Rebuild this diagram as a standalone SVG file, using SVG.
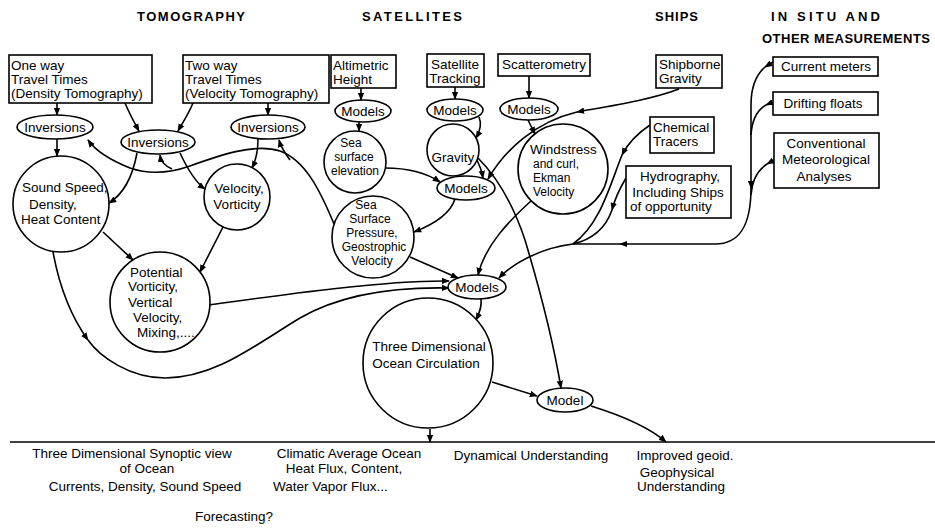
<svg xmlns="http://www.w3.org/2000/svg" width="935" height="528" viewBox="0 0 935 528">
<style>
.s{fill:#fff;stroke:#000;stroke-width:1.6}
.t{font-family:"Liberation Sans",Arial,sans-serif;font-size:13.5px;fill:#000}
.sm{font-size:12px}
.m{text-anchor:middle}
.h{font-family:"Liberation Sans",Arial,sans-serif;font-size:13px;font-weight:bold;fill:#000}
.c path{fill:none;stroke:#000;stroke-width:1.6}
.c path.a{marker-end:url(#ar)}
</style>
<defs>
<marker id="ar" viewBox="0 0 10 10" refX="9" refY="5" markerWidth="8" markerHeight="8" markerUnits="userSpaceOnUse" orient="auto"><path d="M0,1 L10,5 L0,9 z" fill="#000"/></marker>
</defs>
<rect width="935" height="528" fill="#fff"/>

<g id="headers">
<text class="h" x="137" y="21" textLength="108">TOMOGRAPHY</text>
<text class="h" x="362" y="21" textLength="100">SATELLITES</text>
<text class="h" x="655" y="21" textLength="43">SHIPS</text>
<text class="h" x="771" y="21" textLength="109">IN SITU  AND</text>
<text class="h" x="762" y="43" textLength="168">OTHER MEASUREMENTS</text>
</g>

<g class="c" id="connectors">
<path class="a" d="M57,103 L57,115"/>
<path class="a" d="M57,139 L57,156"/>
<path class="a" d="M125,103 C130,115 134,122 139,131"/>
<path class="a" d="M193,103 C188,115 183,122 178,131"/>
<path class="a" d="M268,103 L268,115"/>
<path class="a" d="M137,153 C132,180 122,195 109,203"/>
<path class="a" d="M180,153 C188,170 195,182 205,189"/>
<path class="a" d="M258,139 C258,150 256,160 252,168"/>
<path class="a" d="M334,224 C320,190 305,160 280,151 C255,143 220,155 190,166 C170,173 150,175 130,168 C110,160 95,150 88,140"/>
<path class="a" d="M172,169 C165,166 161,162 160,155"/>
<path class="a" d="M290,160 C284,152 281,147 279,140"/>
<path class="a" d="M103,232 L133,260"/>
<path class="a" d="M223,227 L200,272"/>
<path class="a" d="M209,305 C260,298 380,280 449,281"/>
<path class="a" d="M53,252 C60,290 72,318 88,340"/>
<path class="a" d="M88,340 C100,357 130,378 165,378 C215,378 255,345 300,318 C345,292 400,287 449,288"/>
<path class="a" d="M410,257 L458,278"/>
<path class="a" d="M455,199 C450,215 432,225 414,232"/>
<path class="a" d="M385,168 C410,168 428,174 440,182"/>
<path class="a" d="M361,88 L361,100"/>
<path class="a" d="M359,122 L359,131"/>
<path class="a" d="M455,87 L455,99"/>
<path class="a" d="M479,117 C482,124 480,131 476,138"/>
<path class="a" d="M477,160 C480,166 482,172 483,178"/>
<path class="a" d="M478,158 C500,180 515,210 525,240 C540,290 553,340 561,388"/>
<path class="a" d="M529,76 L529,98"/>
<path class="a" d="M528,120 L535,134"/>
<path class="a" d="M531,201 C510,220 485,245 478,275"/>
<path class="a" d="M679,89 C650,100 610,106 577,112"/>
<path class="a" d="M577,112 C535,122 505,150 488,179"/>
<path class="a" d="M650,125 C635,135 627,145 622,155"/>
<path d="M622,155 C610,185 600,225 573,244"/>
<path class="a" d="M626,178 C620,188 615,198 612,210"/>
<path d="M612,210 C605,230 590,240 573,244"/>
<path class="a" d="M773,62 L765,67"/>
<path class="a" d="M765,67 C756,75 751,88 751,105 L751,188"/>
<path class="a" d="M773,102 L766,105"/>
<path d="M766,105 C757,110 752,120 751,135"/>
<path class="a" d="M774,160 L767,164"/>
<path d="M767,164 C758,170 752,180 751,195"/>
<path class="a" d="M751,188 C751,225 740,244 715,244 L620,244"/>
<path class="a" d="M620,244 L573,244 C540,248 512,264 499,278"/>
<path class="a" d="M481,299 C482,306 480,312 476,320"/>
<path class="a" d="M492,382 L537,396"/>
<path class="a" d="M591,406 C620,415 650,428 666,442"/>
<path class="a" d="M430,429 L430,442"/>
<path d="M10,442 L935,442"/>
</g>

<g id="oneway"><rect class="s" x="9" y="55" width="143" height="48"/>
<text class="t" x="11" y="70">One way</text><text class="t" x="11" y="84">Travel Times</text><text class="t" x="11" y="98">(Density Tomography)</text></g>
<g id="twoway"><rect class="s" x="183" y="55" width="146" height="48"/>
<text class="t" x="185" y="70">Two way</text><text class="t" x="185" y="84">Travel Times</text><text class="t" x="185" y="98">(Velocity Tomography)</text></g>
<g id="altimetric"><rect class="s" x="331" y="55" width="65" height="33"/>
<text class="t" x="333" y="70">Altimetric</text><text class="t" x="333" y="84">Height</text></g>
<g id="sattrack"><rect class="s" x="427" y="54" width="57" height="33"/>
<text class="t m" x="455" y="69">Satellite</text><text class="t m" x="455" y="83">Tracking</text></g>
<g id="scatter"><rect class="s" x="498" y="54" width="92" height="22"/>
<text class="t m" x="544" y="69">Scatterometry</text></g>
<g id="shipgrav"><rect class="s" x="656" y="55" width="66" height="33"/>
<text class="t" x="659" y="69">Shipborne</text><text class="t" x="659" y="83">Gravity</text></g>
<g id="chem"><rect class="s" x="650" y="117" width="64" height="36"/>
<text class="t" x="653" y="132">Chemical</text><text class="t" x="653" y="146">Tracers</text></g>
<g id="hydro"><rect class="s" x="626" y="166" width="105" height="52"/>
<text class="t m" x="680" y="181">Hydrography,</text><text class="t m" x="678" y="197">Including Ships</text><text class="t" x="630" y="211">of opportunity</text></g>
<g id="curmeters"><rect class="s" x="773" y="57" width="105" height="19"/>
<text class="t m" x="826" y="71">Current meters</text></g>
<g id="drift"><rect class="s" x="773" y="92" width="105" height="23"/>
<text class="t m" x="823" y="108">Drifting floats</text></g>
<g id="conv"><rect class="s" x="774" y="133" width="105" height="55"/>
<text class="t m" x="826" y="148">Conventional</text><text class="t m" x="826" y="164">Meteorological</text><text class="t m" x="824" y="181">Analyses</text></g>

<g id="invL"><ellipse class="s" cx="55" cy="127" rx="38" ry="12"/><text class="t m" x="55" y="132">Inversions</text></g>
<g id="invM"><ellipse class="s" cx="158" cy="142" rx="37" ry="12"/><text class="t m" x="158" y="147">Inversions</text></g>
<g id="invR"><ellipse class="s" cx="268" cy="127" rx="37" ry="12"/><text class="t m" x="268" y="132">Inversions</text></g>
<g id="modAlt"><ellipse class="s" cx="363" cy="111" rx="28" ry="11"/><text class="t m" x="363" y="116">Models</text></g>
<g id="modSat"><ellipse class="s" cx="455" cy="110" rx="28" ry="11"/><text class="t m" x="455" y="115">Models</text></g>
<g id="modScat"><ellipse class="s" cx="529" cy="109" rx="29" ry="11"/><text class="t m" x="529" y="114">Models</text></g>
<g id="modMid"><ellipse class="s" cx="466" cy="188" rx="29" ry="12"/><text class="t m" x="466" y="193">Models</text></g>
<g id="modBot"><ellipse class="s" cx="477" cy="287" rx="29" ry="12"/><text class="t m" x="477" y="292">Models</text></g>
<g id="model"><ellipse class="s" cx="565" cy="400" rx="28" ry="12"/><text class="t m" x="565" y="405">Model</text></g>

<g id="sound"><circle class="s" cx="61" cy="204" r="48"/>
<text class="t" x="22" y="192">Sound Speed,</text><text class="t" x="29" y="209">Density,</text><text class="t" x="21" y="224">Heat Content</text></g>
<g id="velvort"><circle class="s" cx="237" cy="197" r="33"/>
<text class="t m" x="239" y="193">Velocity,</text><text class="t m" x="237" y="209">Vorticity</text></g>
<g id="potvort"><circle class="s" cx="160" cy="302" r="50"/>
<text class="t" x="130" y="277">Potential</text><text class="t" x="128" y="291">Vorticity,</text><text class="t" x="128" y="307">Vertical</text><text class="t" x="133" y="322">Velocity,</text><text class="t" x="137" y="337">Mixing,....</text></g>
<g id="seaelev"><circle class="s" cx="355" cy="162" r="31"/>
<text class="t sm m" x="351" y="147">Sea</text><text class="t sm m" x="354" y="161">surface</text><text class="t sm m" x="355" y="175">elevation</text></g>
<g id="gravity"><circle class="s" cx="453" cy="150" r="26"/>
<text class="t m" x="453" y="162">Gravity</text></g>
<g id="wind"><circle class="s" cx="563" cy="169" r="45"/>
<text class="t" x="530" y="154">Windstress</text><text class="t sm" x="533" y="168">and curl,</text><text class="t sm" x="533" y="182">Ekman</text><text class="t sm" x="533" y="196">Velocity</text></g>
<g id="ssp"><circle class="s" cx="373" cy="237" r="41"/>
<text class="t sm m" x="366" y="209">Sea</text><text class="t sm m" x="370" y="223">Surface</text><text class="t sm m" x="372" y="237">Pressure,</text><text class="t sm m" x="374" y="251">Geostrophic</text><text class="t sm m" x="372" y="265">Velocity</text></g>
<g id="threeD"><circle class="s" cx="428" cy="363" r="65"/>
<text class="t m" x="429" y="351">Three Dimensional</text><text class="t m" x="426" y="368">Ocean Circulation</text></g>

<g id="outcomes">
<text class="t m" x="132" y="458">Three Dimensional  Synoptic view</text>
<text class="t m" x="147" y="473">of Ocean</text>
<text class="t m" x="145" y="491">Currents, Density, Sound Speed</text>
<text class="t m" x="349" y="458">Climatic Average Ocean</text>
<text class="t m" x="344" y="473">Heat Flux, Content,</text>
<text class="t" x="273" y="491">Water Vapor Flux...</text>
<text class="t m" x="234" y="521">Forecasting?</text>
<text class="t m" x="531" y="460">Dynamical  Understanding</text>
<text class="t m" x="685" y="460">Improved geoid.</text>
<text class="t m" x="677" y="477">Geophysical</text>
<text class="t m" x="681" y="491">Understanding</text>
</g>
</svg>
